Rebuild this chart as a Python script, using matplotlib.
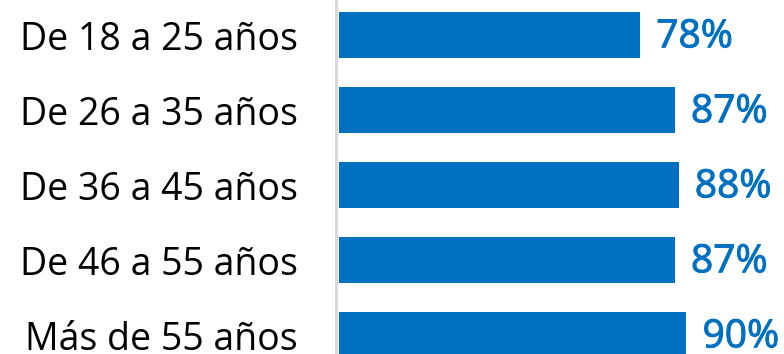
import matplotlib
matplotlib.use("Agg")
import matplotlib.pyplot as plt
import matplotlib.patheffects as pe

grupos = ["De 18 a 25 años", "De 26 a 35 años", "De 36 a 45 años",
          "De 46 a 55 años", "Más de 55 años"]
porcentajes = [78, 87, 88, 87, 90]

azul = "#0070C0"
plt.rcParams["font.family"] = ["Open Sans", "DejaVu Sans"]

fig = plt.figure(figsize=(7.84, 3.54), dpi=100)
ax = fig.add_axes([339 / 784, 0, 1 - 339 / 784, 1])

pos = list(range(len(grupos)))
ax.barh(pos, porcentajes, height=0.613, color=azul)
ax.set_xlim(0, 115.3)
ax.set_ylim(4.253, -0.467)

# etiquetas de valor a la derecha de cada barra
for y, v in zip(pos, porcentajes):
    ax.text(v + 4.2, y + 0.03, f"{v}%", color=azul, fontsize=28,
            va="center", ha="left",
            path_effects=[pe.withStroke(linewidth=0.7, foreground=azul)])

ax.set_yticks(pos)
ax.set_yticklabels(grupos)
ax.tick_params(axis="y", length=0, pad=27, labelsize=27, labelcolor="black")
ax.set_xticks([])

for s in ["top", "right", "bottom"]:
    ax.spines[s].set_visible(False)
ax.spines["left"].set_color("#d9d9d9")
ax.spines["left"].set_linewidth(2.2)
ax.spines["left"].set_position(("outward", 2.5))

fig.savefig("out.png", dpi=100)
